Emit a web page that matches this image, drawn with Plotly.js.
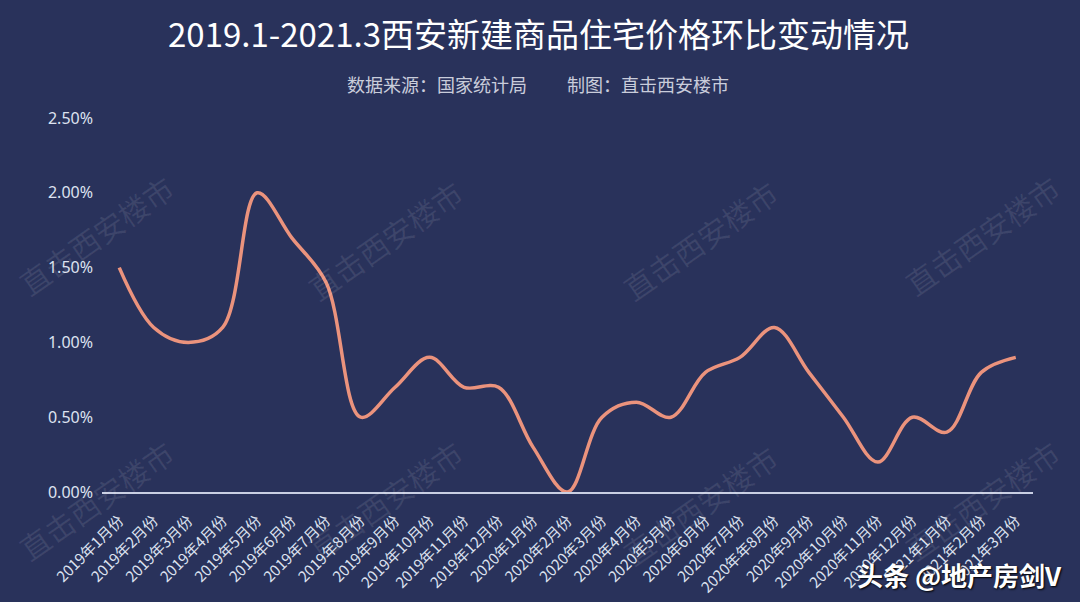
<!DOCTYPE html>
<html>
<head>
<meta charset="utf-8">
<script src="https://cdn.plot.ly/plotly-3.0.1.min.js"></script>
<style>
html,body{margin:0;padding:0;background:#29325b;}
#chart{width:1080px;height:602px;}
</style>
</head>
<body>
<div id="chart"></div>
<script>
const months = ["2019年1月份","2019年2月份","2019年3月份","2019年4月份","2019年5月份","2019年6月份","2019年7月份","2019年8月份","2019年9月份","2019年10月份","2019年11月份","2019年12月份","2020年1月份","2020年2月份","2020年3月份","2020年4月份","2020年5月份","2020年6月份","2020年7月份","2020年年8月份","2020年9月份","2020年10月份","2020年11月份","2020年12月份","2021年1月份","2021年2月份","2021年3月份"];
const changePct = [1.5,1.1,1.0,1.1,2.0,1.7,1.4,0.5,0.7,0.9,0.7,0.7,0.3,0.0,0.5,0.6,0.5,0.8,0.9,1.1,0.8,0.5,0.2,0.5,0.4,0.8,0.9];
const yTicks = [0,0.5,1.0,1.5,2.0,2.5];
const yTickText = ["0.00%","0.50%","1.00%","1.50%","2.00%","2.50%"];
const titleText = "2019.1-2021.3西安新建商品住宅价格环比变动情况";
const subtitleA = "数据来源：国家统计局";
const subtitleB = "制图：直击西安楼市";
const watermarkText = "直击西安楼市";
const creditText = "头条 @地产房剑V";

const L = 102, R = 47, T = 118, B = 110, W = 1080, H = 602;
const px = x => (x - L) / (W - L - R);
const py = y => (H - B - y) / (H - T - B);

const wmPos = [[96,235],[385,240],[700,240],[982,235],[96,500],[385,500],[700,505],[982,500]];
const annotations = wmPos.map(p => ({
  text: watermarkText, x: px(p[0]), y: py(p[1]), xref: "paper", yref: "paper", showarrow: false,
  xanchor: "center", yanchor: "middle",
  textangle: -35, font: {family: "Noto Sans CJK SC", size: 30, color: "rgba(255,255,255,0.09)"}
}));
annotations.push({
  text: titleText, xref: "paper", yref: "paper", x: px(538), y: py(33),
  xanchor: "center", yanchor: "middle", showarrow: false,
  font: {family: "Noto Sans CJK SC", size: 33, color: "#ffffff"}
});
annotations.push({
  text: subtitleA + "　　 " + subtitleB, xref: "paper", yref: "paper", x: px(538), y: py(84),
  xanchor: "center", yanchor: "middle", showarrow: false,
  font: {family: "Noto Sans CJK SC", size: 18, color: "#c9cddb"}
});
annotations.push({
  text: "<b>" + creditText + "</b>", xref: "paper", yref: "paper",
  x: px(1064), y: py(574),
  xanchor: "right", yanchor: "middle", showarrow: false,
  font: {family: "Noto Sans CJK SC", size: 26, color: "#ffffff", shadow: "1px 1px 2px #000"}
});

const trace = {
  x: months, y: changePct, type: "scatter", mode: "lines",
  line: {color: "#eb937d", width: 3.5, shape: "spline", smoothing: 1},
  cliponaxis: false, hoverinfo: "x+y"
};

const layout = {
  width: W, height: H,
  paper_bgcolor: "#29325b", plot_bgcolor: "#29325b",
  margin: {l: L, r: R, t: T, b: B},
  showlegend: false,
  xaxis: {
    type: "category", range: [-0.5, months.length - 0.5],
    showgrid: false, zeroline: false, showline: true, linecolor: "#c9cfe3", linewidth: 2,
    ticks: "", tickangle: -45, automargin: false, ticklabelstandoff: 12,
    tickfont: {family: "Noto Sans CJK SC", size: 15, color: "#dde2f0"}
  },
  yaxis: {
    range: [0, 2.5], tickmode: "array", tickvals: yTicks, ticktext: yTickText,
    showgrid: false, zeroline: false, showline: false, ticks: "", automargin: false,
    ticklabelstandoff: 8,
    tickfont: {family: "Noto Sans", size: 16, color: "#dde2f0"}
  },
  annotations: annotations
};

Plotly.newPlot("chart", [trace], layout, {displayModeBar: false, staticPlot: true});
</script>
</body>
</html>
